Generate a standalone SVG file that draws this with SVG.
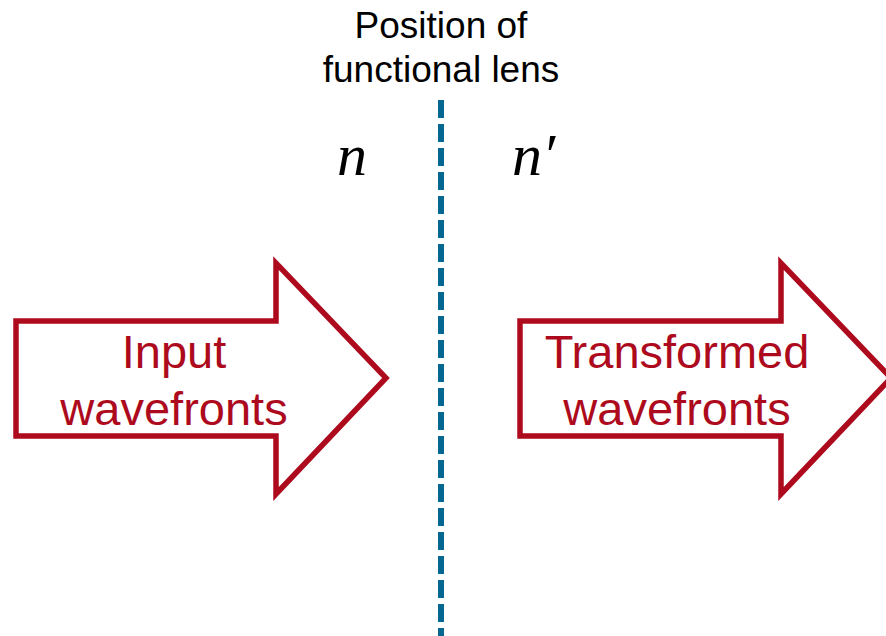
<svg xmlns="http://www.w3.org/2000/svg" width="886" height="636" viewBox="0 0 886 636">
<style>
.arrow{fill:#ffffff;stroke:#ad0b1d;stroke-width:5.5;stroke-linejoin:miter}
.lbl{font-family:"Liberation Sans",Arial,sans-serif;font-size:47px;fill:#ad0b1d;text-anchor:middle}
.title{font-family:"Liberation Sans",Arial,sans-serif;font-size:37px;fill:#000000;text-anchor:middle}
.math{font-family:"Liberation Serif","Times New Roman",serif;font-style:italic;font-size:60px;fill:#000000}
</style>
<rect width="886" height="636" fill="#ffffff"/>
<g id="lens-label">
<text class="title" x="441" y="38">Position of</text>
<text class="title" x="441" y="82">functional lens</text>
</g>
<g id="connectors">
<line x1="441" y1="100" x2="441" y2="636" stroke="#05668f" stroke-width="6" stroke-dasharray="18 6"/>
</g>
<g id="n-left">
<text class="math" x="337" y="175">n</text>
</g>
<g id="n-right">
<text class="math" x="512" y="175">n′</text>
</g>
<g id="input-arrow">
<path class="arrow" d="M16,321 L276,321 L276,263 L386,378 L276,494 L276,436 L16,436 Z"/>
<text class="lbl" x="174" y="368">Input</text>
<text class="lbl" x="174" y="425">wavefronts</text>
</g>
<g id="output-arrow">
<path class="arrow" d="M520,321 L781,321 L781,263 L891,378 L781,494 L781,436 L520,436 Z"/>
<text class="lbl" x="677" y="368">Transformed</text>
<text class="lbl" x="677" y="425">wavefronts</text>
</g>
</svg>
